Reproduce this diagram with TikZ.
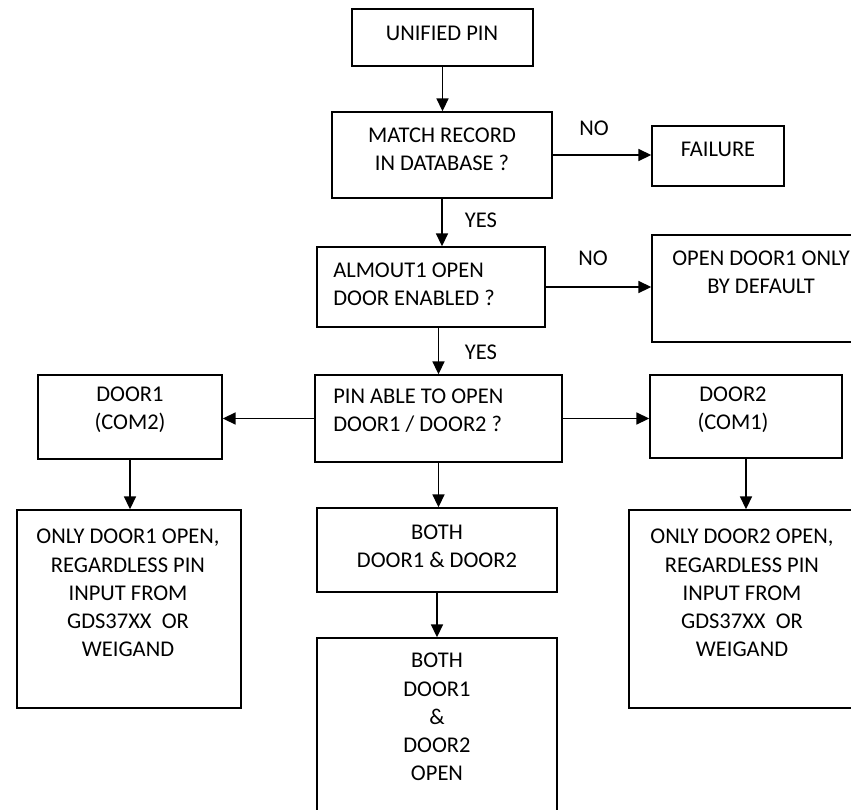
\documentclass[tikz,border=0pt]{standalone}
\usepackage{fontspec}
\setmainfont{Carlito}
\usetikzlibrary{arrows.meta, positioning, calc}

\begin{document}
\begin{tikzpicture}[x=0.025cm, y=-0.025cm,
            box/.style 2 args={draw, line width=1.1pt, minimum width=#1*0.025cm, minimum height=#2*0.025cm, inner sep=0pt},
            txt/.style={align=center, font=\fontsize{16}{20}\selectfont, inner sep=0pt},
            txt left/.style={txt, align=left, anchor=west},
            tag/.style={font=\fontsize{16}{20}\selectfont, inner sep=0pt},
            flow/.style={-{Triangle[length=0.32cm, width=0.3cm]}, line width=1.1pt}]

            \useasboundingbox (0,0) rectangle (851,810);

            % Boxes
            \node[box={181}{57}] (unified) at (442.5,37.5) {};
            \node[box={220}{86}] (match) at (442,155) {};
            \node[box={132}{60}] (failure) at (718,156) {};
            \node[box={228}{80}] (almout) at (431,287) {};
            \node[box={218}{107}] (default) at (761,288.5) {};
            \node[box={184}{84}] (door1) at (130,417) {};
            \node[box={247}{87}] (pinable) at (438.5,418.5) {};
            \node[box={192}{83}] (door2) at (746,416.5) {};
            \node[box={224}{198}] (only1) at (129,609) {};
            \node[box={240}{84}] (both) at (437,550) {};
            \node[box={224}{198}] (only2) at (741,609) {};
            \node[box={240}{262}] (bothopen) at (437,769) {};

            % Box texts
            \node[txt] (unified-t) at (442,33) {UNIFIED PIN};
            \node[txt] (match-t) at (442,149) {MATCH RECORD\\IN DATABASE ?};
            \node[txt] (failure-t) at (718,149) {FAILURE};
            \node[txt left] (almout-t) at (333,284) {ALMOUT1 OPEN\\DOOR ENABLED ?};
            \node[txt] (default-t) at (761,272) {OPEN DOOR1 ONLY\\BY DEFAULT};
            \node[txt] (door1-t) at (130,410) {DOOR1\\(COM2)};
            \node[txt left] (pinable-t) at (333,411) {PIN ABLE TO OPEN\\DOOR1 / DOOR2 ?};
            \node[txt] (door2-t) at (733,410) {DOOR2\\(COM1)};
            \node[txt] (only1-t) at (128,593) {ONLY DOOR1 OPEN,\\REGARDLESS PIN\\INPUT FROM\\GDS37XX\ \ OR\\WEIGAND};
            \node[txt] (both-t) at (437,546) {BOTH\\DOOR1 \& DOOR2};
            \node[txt] (only2-t) at (742,593) {ONLY DOOR2 OPEN,\\REGARDLESS PIN\\INPUT FROM\\GDS37XX\ \ OR\\WEIGAND};
            \node[txt] (bothopen-t) at (437,717) {BOTH\\DOOR1\\\&\\DOOR2\\OPEN};

            % Branch labels
            \node[tag] (no1) at (594,128.5) {NO};
            \node[tag] (yes1) at (481,220) {YES};
            \node[tag] (no2) at (593,258.5) {NO};
            \node[tag] (yes2) at (481,352) {YES};

            % Arrows
            \draw[flow] (unified.south) -- (unified.south |- match.north);
            \draw[flow] (match.east) -- (match.east -| failure.west);
            \draw[flow] (match.south) -- (match.south |- almout.north);
            \draw[flow] (almout.east) -- (almout.east -| default.west);
            \draw[flow] (pinable.north |- almout.south) -- (pinable.north);
            \draw[flow] (pinable.west) -- (pinable.west -| door1.east);
            \draw[flow] (pinable.east) -- (pinable.east -| door2.west);
            \draw[flow] (door1.south) -- (door1.south |- only1.north);
            \draw[flow] (pinable.south) -- (pinable.south |- both.north);
            \draw[flow] (door2.south) -- (door2.south |- only2.north);
            \draw[flow] (both.south) -- (both.south |- bothopen.north);
\end{tikzpicture}
\end{document}
